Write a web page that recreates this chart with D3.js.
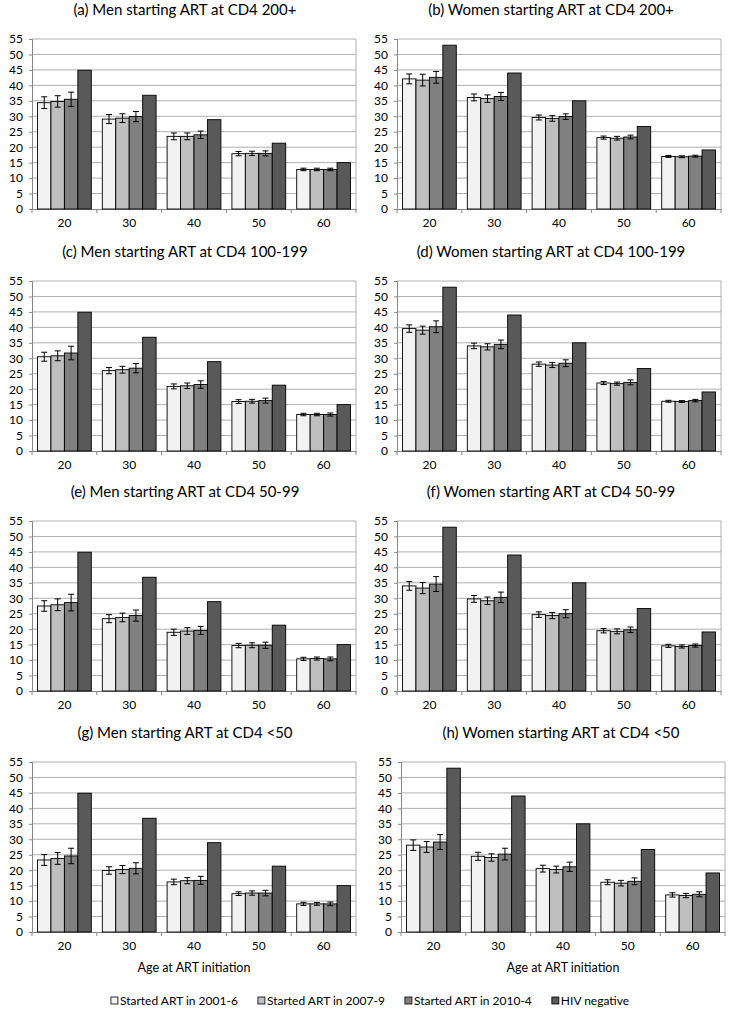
<!DOCTYPE html>
<html>
<head>
<meta charset="utf-8">
<script src="https://cdn.jsdelivr.net/npm/d3@7"></script>
<style>
  body { margin: 0; background: #fff; }
  text { font-family: Lato, "Open Sans", sans-serif; fill: #000; }
</style>
</head>
<body>
<div id="chart"></div>
<script>
var ages = ["20", "30", "40", "50", "60"];
var seriesNames = ["Started ART in 2001-6", "Started ART in 2007-9", "Started ART in 2010-4", "HIV negative"];
var yTicks = [0, 5, 10, 15, 20, 25, 30, 35, 40, 45, 50, 55];

var hivMen = [44.9, 36.8, 28.9, 21.3, 15.0];
var hivWomen = [53.0, 44.0, 35.0, 26.7, 19.1];

// ART series, one row per age: [2001-6, 2007-9, 2010-4]
var artA = [[34.4, 34.8, 35.5], [29.1, 29.4, 29.9], [23.5, 23.5, 24.0], [17.9, 18.0, 18.0], [12.8, 12.8, 12.8]];
var errA = [[1.9, 1.85, 2.3], [1.45, 1.4, 1.65], [1.1, 1.1, 1.2], [0.7, 0.7, 0.8], [0.4, 0.4, 0.4]];
var artB = [[42.1, 41.7, 42.6], [36.1, 35.7, 36.4], [29.6, 29.3, 29.9], [23.1, 22.9, 23.3], [17.0, 16.9, 17.1]];
var errB = [[1.6, 1.9, 1.9], [1.1, 1.2, 1.3], [0.8, 0.9, 0.9], [0.5, 0.6, 0.6], [0.3, 0.3, 0.3]];
var artC = [[30.5, 30.8, 31.7], [26.0, 26.3, 26.8], [20.9, 21.1, 21.5], [16.0, 16.1, 16.3], [11.8, 11.8, 11.8]];
var errC = [[1.45, 1.6, 2.2], [1.0, 1.1, 1.5], [0.8, 0.9, 1.2], [0.6, 0.6, 0.8], [0.4, 0.4, 0.5]];
var artD = [[39.6, 39.1, 40.2], [34.0, 33.7, 34.5], [28.1, 27.8, 28.4], [22.0, 21.8, 22.2], [16.1, 16.0, 16.3]];
var errD = [[1.2, 1.3, 1.9], [0.9, 1.0, 1.4], [0.7, 0.8, 1.1], [0.5, 0.5, 0.8], [0.3, 0.3, 0.4]];
var artE = [[27.5, 27.9, 28.6], [23.4, 23.8, 24.4], [19.0, 19.4, 19.6], [14.7, 14.8, 14.8], [10.4, 10.5, 10.4]];
var errE = [[1.7, 1.9, 2.7], [1.3, 1.4, 1.8], [1.0, 1.1, 1.3], [0.7, 0.8, 1.0], [0.5, 0.5, 0.6]];
var artF = [[34.0, 33.3, 34.6], [29.8, 29.2, 30.3], [24.7, 24.4, 25.0], [19.5, 19.3, 19.8], [14.6, 14.4, 14.7]];
var errF = [[1.4, 1.8, 2.4], [1.1, 1.2, 1.7], [0.9, 1.0, 1.3], [0.7, 0.8, 0.9], [0.5, 0.5, 0.5]];
var artG = [[23.3, 23.8, 24.6], [19.9, 20.2, 20.6], [16.2, 16.6, 16.7], [12.4, 12.6, 12.6], [9.1, 9.1, 9.1]];
var errG = [[1.75, 1.9, 2.5], [1.2, 1.3, 1.8], [0.9, 1.0, 1.3], [0.6, 0.7, 0.9], [0.5, 0.45, 0.6]];
var artH = [[28.1, 27.5, 29.1], [24.5, 24.1, 25.2], [20.5, 20.2, 21.1], [16.1, 15.8, 16.4], [12.0, 11.8, 12.2]];
var errH = [[1.7, 1.75, 2.4], [1.3, 1.2, 1.9], [1.1, 1.1, 1.5], [0.8, 0.9, 1.1], [0.7, 0.7, 0.8]];

var titles = [
  "(a) Men starting ART at CD4 200+", "(b) Women starting ART at CD4 200+",
  "(c) Men starting ART at CD4 100-199", "(d) Women starting ART at CD4 100-199",
  "(e) Men starting ART at CD4 50-99", "(f) Women starting ART at CD4 50-99",
  "(g) Men starting ART at CD4 <50", "(h) Women starting ART at CD4 <50"
];

var colors = ["#f2f2f2", "#bfbfbf", "#808080", "#595959"];

var svg = d3.select("#chart")
            .append("svg")
              .attr("width", 735)
              .attr("height", 1016);

svg.append("rect").attr("width", 735).attr("height", 1016).attr("fill", "#fff");

var plotW = 324,
    plotH = 170;

var rowTops = [39, 281, 521, 762],
    colLefts = [32, 397];

var panels = [
  {art: artA, err: errA, hiv: hivMen},
  {art: artB, err: errB, hiv: hivWomen},
  {art: artC, err: errC, hiv: hivMen},
  {art: artD, err: errD, hiv: hivWomen},
  {art: artE, err: errE, hiv: hivMen},
  {art: artF, err: errF, hiv: hivWomen},
  {art: artG, err: errG, hiv: hivMen},
  {art: artH, err: errH, hiv: hivWomen}
];

var y = d3.scaleLinear().domain([0, 55]).range([plotH, 0]);
var x0 = d3.scaleBand().domain(ages).range([0, plotW]);
var gap = x0.bandwidth() * 0.085;
var x1 = d3.scaleBand().domain(d3.range(4)).range([gap, x0.bandwidth() - gap]);

panels.forEach(function(p, i) {
  var row = Math.floor(i / 2),
      col = i % 2,
      left = colLefts[col] + (i === 7 ? 4 : 0),
      top = rowTops[row];

  var g = svg.append("g")
             .attr("transform", "translate(" + left + "," + top + ")");

  // title
  svg.append("text")
     .attr("x", (col === 0 ? 185 : 551) + (i === 7 ? 10 : 0))
     .attr("y", top - 24)
     .attr("text-anchor", "middle")
     .attr("font-size", 15)
     .text(titles[i]);

  // gridlines
  g.selectAll(".grid")
    .data(yTicks.slice(1))
  .enter().append("line")
    .attr("x1", 0)
    .attr("x2", plotW)
    .attr("y1", function(d) { return y(d); })
    .attr("y2", function(d) { return y(d); })
    .attr("stroke", "#b0b0b0")
    .attr("stroke-width", 1);

  // right border
  g.append("line")
    .attr("x1", plotW).attr("x2", plotW)
    .attr("y1", 0).attr("y2", plotH)
    .attr("stroke", "#b0b0b0");

  // y axis
  var yAxis = d3.axisLeft(y).tickValues(yTicks).tickSize(3).tickPadding(6);
  var ya = g.append("g").call(yAxis);
  ya.selectAll("path, line").attr("stroke", "#868686");
  ya.selectAll("text").attr("font-size", 12).attr("font-family", "Lato, sans-serif");

  // x axis
  var xAxis = d3.axisBottom(x0).tickSize(0).tickPadding(9);
  var xa = g.append("g").attr("transform", "translate(0," + plotH + ")").call(xAxis);
  xa.select(".domain").attr("stroke", "#868686");
  xa.selectAll("text").attr("font-size", 12).attr("font-family", "Lato, sans-serif");
  xa.selectAll(".sep")
    .data(ages.map(function(a) { return x0(a); }).concat([plotW]))
  .enter().append("line")
    .attr("x1", function(d) { return d; })
    .attr("x2", function(d) { return d; })
    .attr("y1", 0)
    .attr("y2", 4)
    .attr("stroke", "#868686");

  if (row === 3) {
    svg.append("text")
       .attr("x", left + plotW / 2)
       .attr("y", top + plotH + 40)
       .attr("text-anchor", "middle")
       .attr("font-size", 12.5)
       .text("Age at ART initiation");
  }

  // bars
  var bars = [];
  ages.forEach(function(a, ai) {
    p.art[ai].forEach(function(v, si) {
      bars.push({age: a, s: si, v: v, e: p.err[ai][si]});
    });
    bars.push({age: a, s: 3, v: p.hiv[ai], e: null});
  });

  g.selectAll(".bar")
    .data(bars)
  .enter().append("rect")
    .attr("class", "bar")
    .attr("x", function(d) { return x0(d.age) + x1(d.s); })
    .attr("width", x1.bandwidth())
    .attr("y", function(d) { return y(d.v); })
    .attr("height", function(d) { return plotH - y(d.v); })
    .attr("fill", function(d) { return colors[d.s]; })
    .attr("stroke", "#000")
    .attr("stroke-width", 0.9);

  // error bars
  var errs = g.selectAll(".err")
    .data(bars.filter(function(d) { return d.e !== null; }))
  .enter().append("g")
    .attr("class", "err")
    .attr("transform", function(d) {
      return "translate(" + (x0(d.age) + x1(d.s) + x1.bandwidth() / 2) + ",0)";
    });

  errs.append("line")
    .attr("y1", function(d) { return y(d.v + d.e); })
    .attr("y2", function(d) { return y(d.v - d.e); })
    .attr("stroke", "#000");
  errs.append("line")
    .attr("x1", -3).attr("x2", 3)
    .attr("y1", function(d) { return y(d.v + d.e); })
    .attr("y2", function(d) { return y(d.v + d.e); })
    .attr("stroke", "#000");
  errs.append("line")
    .attr("x1", -3).attr("x2", 3)
    .attr("y1", function(d) { return y(d.v - d.e); })
    .attr("y2", function(d) { return y(d.v - d.e); })
    .attr("stroke", "#000");
});

// legend
var legend = svg.append("g").attr("transform", "translate(0,1001)");
var items = legend.selectAll(".item")
  .data(seriesNames)
.enter().append("g")
  .attr("class", "item");

items.append("rect")
  .attr("x", 0).attr("y", -4)
  .attr("width", 7).attr("height", 7)
  .attr("fill", function(d, i) { return colors[i]; })
  .attr("stroke", "#000")
  .attr("stroke-width", 0.8);

items.append("text")
  .attr("x", 9)
  .attr("y", 4)
  .attr("font-size", 12)
  .text(function(d) { return d; });

var widths = [];
items.each(function() { widths.push(this.getBBox().width); });
var spacing = 20;
var total = d3.sum(widths) + spacing * (widths.length - 1);
var pos = 370 - total / 2;
items.attr("transform", function(d, i) {
  var xp = pos;
  pos += widths[i] + spacing;
  return "translate(" + xp + ",0)";
});
</script>
</body>
</html>
